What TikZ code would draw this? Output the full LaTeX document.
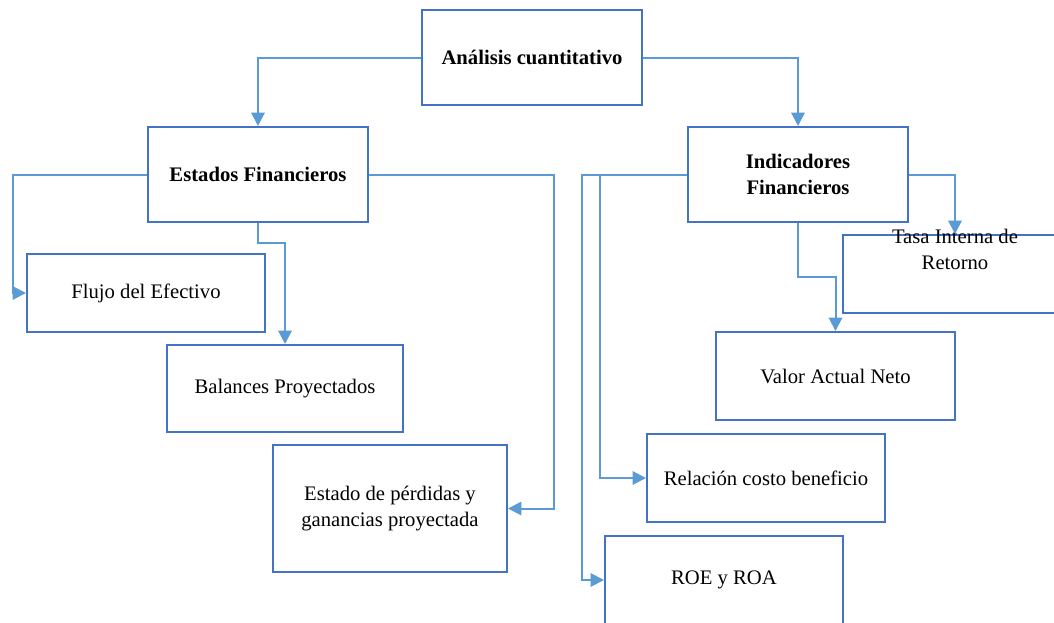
\documentclass[tikz,border=0pt]{standalone}
\usepackage{fontspec}
\setmainfont{Liberation Serif}
\usetikzlibrary{arrows.meta}
\usetikzlibrary{positioning}
\definecolor{boxblue}{RGB}{68,114,196}
\definecolor{lineblue}{RGB}{91,155,213}

\begin{document}
\begin{tikzpicture}[
            x = 0.75pt, y = -0.75pt, % pixel grid of the page
            > = {Triangle[length=10pt,width=10pt]}, % arrow head style
            font = \fontsize{15.5}{19.5}\selectfont,
            boxsize/.style 2 args = {minimum width=#1*0.75pt, minimum height=#2*0.75pt}
        ]

        \tikzstyle{box}=[
            draw = boxblue,
            line width = 1.5pt,
            fill = white,
            align = center,
            inner sep = 2pt
        ]
        \tikzstyle{head}=[
            font = \fontsize{15.5}{19.5}\selectfont\bfseries
        ]
        \tikzstyle{link}=[
            draw = lineblue,
            line width = 1.5pt,
            ->
        ]

        \useasboundingbox (0,0) rectangle (1054,622);
        \clip (0,0) rectangle (1054,622);

	% top level
        \node[box, head, boxsize={220}{95}] (ana) at (532,57.5) {Análisis cuantitativo};
        \node[box, head, boxsize={220}{95}] (est) at (258,174.5) {Estados Financieros};
        \node[box, head, boxsize={220}{95}] (ind) at (798,174.5) {Indicadores\\Financieros};

        \draw[link] (ana.west) -| (est.north);
        \draw[link] (ana.east) -| (ind.north);

         % estados
         \node[box, boxsize={238}{78}] (flu) at (146,293) {Flujo del Efectivo};
         \node[box, boxsize={236}{87}] (bal) at (285,388.5) {Balances Proyectados};
         \node[box, boxsize={234}{127}] (per) at (390,508.5) {Estado de pérdidas y\\ganancias proyectada};

         \draw[link] (est.west) -- ++(-134.5,0) |- (flu.west);
         \draw[link] (est.south) -- ++(0,19.5) -| (bal.north);
         \draw[link] (est.east) -- ++(185,0) |- (per.east);

         % indicadores
         \node[box, boxsize={224}{78},
               label={[align=center, anchor=north, inner sep=0pt, yshift=3.5pt]north:{Tasa Interna de\\Retorno}}] (tasa) at (955,274) {};
         \node[box, boxsize={239}{88}] (val) at (835.5,376) {Valor Actual Neto};
         \node[box, boxsize={238}{88}] (rel) at (766,478) {Relación costo beneficio};
         \node[box, boxsize={238}{88}] (roe) at (724,580) {ROE y ROA};

         \draw[link] (ind.east) -| (tasa.north);
         \draw[link] (ind.south) -- ++(0,54) -| (val.north);
         \draw[link] (ind.west) -- ++(-87,0) |- (rel.west);
         \draw[link] (ind.west) -- ++(-105,0) |- (roe.west);

\end{tikzpicture}
\end{document}
